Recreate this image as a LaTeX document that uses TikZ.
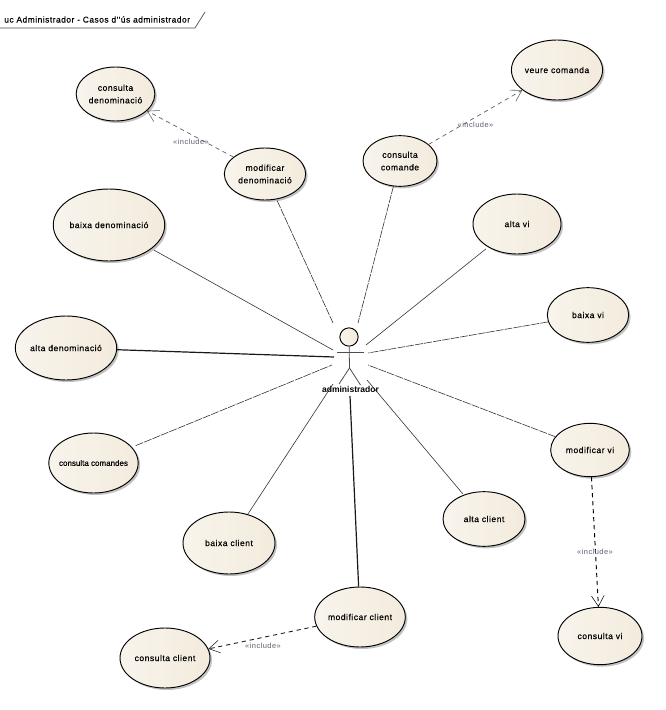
\documentclass[tikz,border=0pt]{standalone}
\usepackage{fontspec}
\setmainfont{Liberation Sans}
\newfontfamily\ucfont[LetterSpace=6,FakeBold=0.35]{Liberation Sans}
\newfontfamily\uctight[FakeBold=0.35]{Liberation Sans}
\newfontfamily\inclfont[LetterSpace=6]{Liberation Sans}
\usetikzlibrary{shapes.geometric,shadows,arrows.meta}
\definecolor{ucfill}{HTML}{F3EBDD}
\definecolor{ucfillb}{HTML}{F8F4EC}
\definecolor{inclabel}{HTML}{5A6072}
\tikzset{
  x=0.75pt,y=-0.75pt,
  usecase/.style={ellipse,draw=black,line width=0.7pt,left color=ucfillb,right color=ucfill,
    drop shadow={shadow xshift=1.5pt,shadow yshift=-1.5pt,fill=black!40,opacity=0.6},
    inner sep=0pt,align=center,font=\fontsize{6.4}{9.4}\selectfont\ucfont,text=black},
  assoc/.style={line width=0.45pt,black!80},
  assocd/.style={assoc,dash pattern=on 6pt off 0.8pt},
  assocb/.style={line width=0.9pt,black!90},
  incl/.style={line width=0.5pt,black!65,dash pattern=on 3.2pt off 2.8pt,-{Straight Barb[length=8pt,width=9.5pt,line width=0.4pt]}},
  incllabel/.style={font=\fontsize{5.6}{7}\selectfont\inclfont,text=inclabel,inner sep=1pt},
  stick/.style={line width=0.6pt,black!70}
}
\begin{document}
\begin{tikzpicture}
\useasboundingbox (0,0) rectangle (666,710);
% title frame
\coordinate (fa) at (0,28);
\coordinate (fb) at (195,28);
\coordinate (fc) at (205,12);
\draw[line width=0.55pt,black!70] (fa) -- (fb) -- (fc);
\node[anchor=west,inner sep=0pt,font=\fontsize{6.3}{8}\selectfont\ucfont] (title) at (4,19.5) {uc Administrador - Casos d''ús administrador};
% use cases
\node[usecase,minimum width=59pt,minimum height=40.5pt] (cd) at (115.5,94) {consulta\\denominació};
\node[usecase,minimum width=61pt,minimum height=39pt] (md) at (265,174) {modificar\\denominació};
\node[usecase,minimum width=55.5pt,minimum height=38pt] (cc) at (400,161) {consulta\\comande};
\node[usecase,minimum width=67pt,minimum height=45pt] (vc) at (557,70) {veure comanda};
\node[usecase,minimum width=79.5pt,minimum height=54pt] (bd) at (109,225) {baixa denominació};
\node[usecase,minimum width=71pt,minimum height=48pt] (ad) at (66,348) {alta denominació};
\node[usecase,minimum width=67pt,minimum height=45pt,inner xsep=-10pt,font=\fontsize{6}{9}\selectfont\uctight] (co) at (93.5,463) {consulta comandes};
\node[usecase,minimum width=69pt,minimum height=46.5pt] (bc) at (229,543) {baixa client};
\node[usecase,minimum width=61.5pt,minimum height=41pt] (ac) at (484,519) {alta client};
\node[usecase,minimum width=67pt,minimum height=45pt] (mc) at (360,617) {modificar client};
\node[usecase,minimum width=67.5pt,minimum height=45pt] (cl) at (165,658) {consulta client};
\node[usecase,minimum width=63pt,minimum height=43pt] (cv) at (600,636) {consulta vi};
\node[usecase,minimum width=59pt,minimum height=40pt] (mv) at (590,450) {modificar vi};
\node[usecase,minimum width=61pt,minimum height=41pt] (bv) at (588,315) {baixa vi};
\node[usecase,minimum width=66pt,minimum height=45pt] (av) at (517,224) {alta vi};
% actor
\node[circle,draw=black,line width=0.7pt,left color=ucfillb,right color=ucfill,minimum size=13.7pt,inner sep=0pt] (head) at (349,337) {};
\coordinate (hip) at (349.5,368);
\coordinate (armL) at (337,352);
\coordinate (armR) at (363.5,352);
\coordinate (legL) at (339,384);
\coordinate (legR) at (360.5,385);
\draw[stick] (head) -- (hip) -- (legL);
\draw[stick] (hip) -- (legR);
\draw[stick] (armL) -- (armR);
\node[inner sep=0pt,font=\fontsize{6.4}{8}\selectfont\bfseries] (actor) at (350.5,389) {administrador};
% association free ends near actor
\coordinate (e1) at (333,323);
\coordinate (e2) at (358,323);
\coordinate (e3) at (333,350);
\coordinate (e4) at (334,357);
\coordinate (e5) at (332,365);
\coordinate (e6) at (333,384);
\coordinate (e7) at (350,396);
\coordinate (e8) at (367,380);
\coordinate (e9) at (368,365);
\coordinate (e10) at (368,353);
\coordinate (e11) at (366,345);
\draw[assocd,shorten <=1pt] (md) -- (e1);
\draw[assocd] (cc) -- (e2);
\draw[assoc,shorten <=2pt] (bd) -- (e3);
\draw[assocb] (ad) -- (e4);
\draw[assocd,shorten <=3pt] (co) -- (e5);
\draw[assoc] (bc) -- (e6);
\draw[assocb] (mc) -- (e7);
\draw[assoc,shorten <=1pt] (ac) -- (e8);
\draw[assocd] (mv) -- (e9);
\draw[assocd] (bv) -- (e10);
\draw[assoc,shorten <=2pt] (av) -- (e11);
% includes
\draw[incl] (md) -- (cd);
\draw[incl] (cc) -- (vc);
\draw[incl,black,line width=0.7pt] (mv) -- (cv);
\draw[incl,black!90,line width=0.65pt] (mc) -- (cl);
\node[incllabel] (l1) at (191,142) {«include»};
\node[incllabel] (l2) at (475.5,125) {«include»};
\node[incllabel] (l3) at (595,552) {«include»};
\node[incllabel] (l4) at (263,646) {«include»};
\end{tikzpicture}
\end{document}
